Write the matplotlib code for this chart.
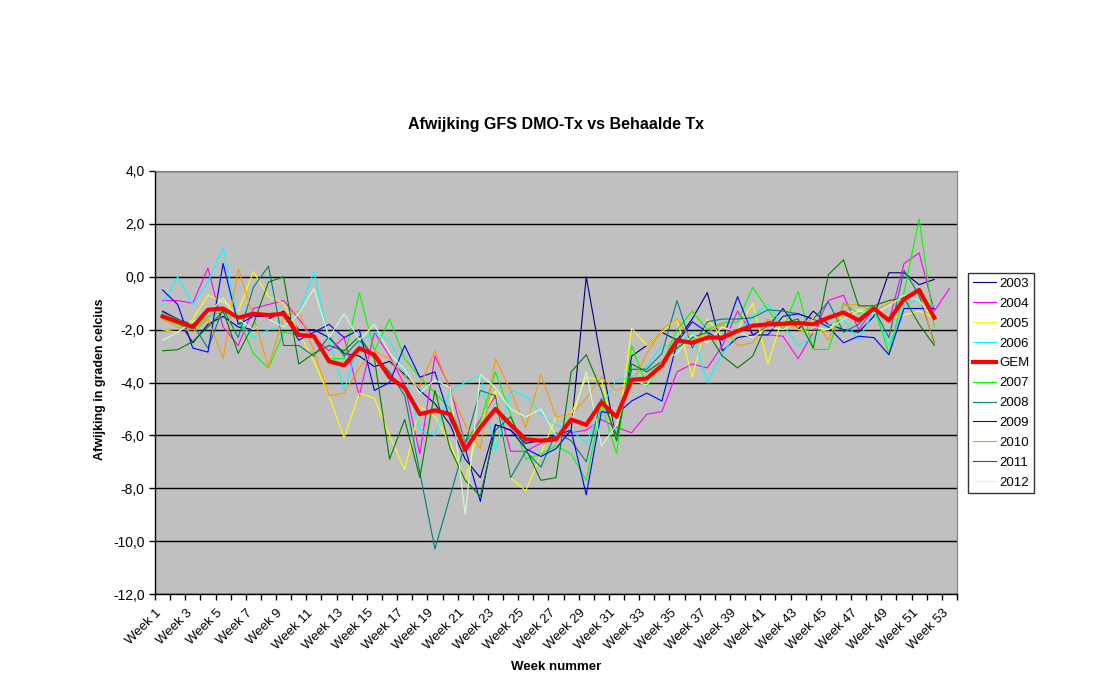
import numpy as np
import matplotlib
matplotlib.use("Agg")
import matplotlib.pyplot as plt
import matplotlib.transforms as mtransforms

plt.rcParams['font.family'] = ['Liberation Sans', 'DejaVu Sans']

# deviation per week (degrees C)
y2003 = [-1.3, -1.6, -2.5, -1.8, -1.5, -1.9, -2.0, -1.6, -1.3, -2.0,
         -2.0, -2.3, -2.9, -3.0, -3.4, -3.2, -3.7, -4.3, -4.8, -5.6,
         -6.9, -7.6, -5.6, -5.8, -6.3, -6.2, -6.0, -5.8, 0.0, -3.2,
         -6.2, -3.0, -2.6, -2.1, -2.4, -1.6, -0.6, -2.8, -2.3, -2.2,
         -1.9, -1.2, -2.0, -1.3, -1.8, -2.0, -2.1, -1.5, 0.15, 0.15,
         -0.3, -0.1]
y2004 = [-0.9, -0.9, -1.0, 0.33, -1.9, -2.6, -1.2, -1.05, -0.9, -1.6,
         -2.3, -2.8, -2.3, -4.5, -2.1, -3.0, -4.1, -6.7, -3.0, -4.2,
         -6.3, -5.4, -4.5, -6.6, -6.6, -6.3, -6.0, -5.9, -5.8, -5.4,
         -5.7, -5.9, -5.2, -5.1, -3.6, -3.3, -3.45, -2.6, -1.3, -2.2,
         -2.2, -2.25, -3.1, -2.1, -0.9, -0.7, -2.0, -1.2, -1.7, 0.5,
         0.9, -1.3, -0.45]
y2005 = [-2.0, -2.1, -1.6, -0.7, -0.95, -1.3, 0.2, -0.75, -1.0, -2.1,
         -3.2, -4.5, -6.1, -4.4, -4.6, -6.0, -7.3, -4.9, -5.3, -6.3,
         -7.7, -5.5, -4.3, -7.6, -8.1, -6.7, -5.3, -5.2, -3.8, -3.9,
         -6.2, -1.95, -2.6, -2.1, -1.6, -3.8, -1.6, -2.3, -2.0, -1.0,
         -3.3, -1.5, -2.0, -2.1, -2.0, -1.4, -1.25, -1.25, -1.6, -1.45,
         -1.3, -1.55]
y2006 = [-1.05, 0.0, -1.05, -0.2, 1.1, -1.7, -2.3, -2.0, -1.9, -1.4,
         0.2, -2.4, -4.3, -2.5, -2.1, -2.4, -3.6, -5.8, -6.0, -4.3,
         -4.0, -3.7, -6.6, -4.3, -4.5, -5.2, -5.6, -5.8, -6.3, -4.9,
         -3.9, -3.8, -3.4, -2.6, -2.6, -2.1, -4.0, -2.9, -2.1, -1.5,
         -1.05, -1.8, -2.6, -2.3, -1.8, -1.6, -2.4, -1.3, -2.6, -1.1,
         -0.85, -1.1]
gem = [-1.5, -1.7, -1.9, -1.25, -1.2, -1.55, -1.4, -1.45, -1.4, -2.2,
       -2.25, -3.2, -3.35, -2.7, -2.95, -3.8, -4.2, -5.2, -5.05, -5.2,
       -6.55, -5.7, -5.0, -5.6, -6.15, -6.2, -6.15, -5.4, -5.6, -4.75,
       -5.3, -3.9, -3.85, -3.35, -2.4, -2.5, -2.3, -2.3, -2.05, -1.85,
       -1.8, -1.78, -1.75, -1.8, -1.55, -1.35, -1.65, -1.2, -1.65, -0.85,
       -0.5, -1.55]
y2007 = [-1.6, -1.8, -2.0, -1.5, -1.3, -1.6, -2.9, -3.45, -2.1, -2.2,
         -2.25, -3.1, -3.1, -0.6, -2.8, -1.6, -3.1, -3.8, -4.4, -5.0,
         -6.2, -5.5, -3.6, -5.2, -6.9, -6.7, -6.4, -6.7, -7.7, -4.8,
         -6.7, -2.6, -4.15, -3.3, -2.0, -1.3, -2.0, -1.75, -1.7, -0.4,
         -1.25, -2.0, -0.55, -2.75, -2.75, -1.0, -1.4, -1.1, -2.9, -0.6,
         2.2, -1.9]
y2008 = [-1.35, -1.6, -1.8, -2.7, -1.2, -2.3, -0.4, 0.4, -2.6, -2.6,
         -3.0, -2.25, -3.0, -2.4, -3.0, -3.6, -4.5, -7.4, -10.3, -8.3,
         -6.3, -4.3, -4.5, -7.6, -6.6, -7.2, -5.9, -6.2, -7.0, -4.6,
         -6.0, -3.5, -3.5, -2.9, -0.9, -2.7, -1.7, -1.6, -1.6, -1.55,
         -1.25, -1.3, -1.4, -1.6, -0.95, -2.1, -1.8, -1.2, -2.3, 0.25,
         -0.7, -2.5]
y2009 = [-0.5, -1.05, -2.7, -2.85, 0.5, -1.8, -1.5, -1.5, -1.4, -2.4,
         -2.1, -1.8, -2.3, -2.0, -4.3, -4.0, -2.6, -3.8, -3.6, -5.4,
         -6.5, -8.5, -5.6, -5.8, -6.5, -6.8, -6.5, -5.8, -8.25, -5.1,
         -5.2, -4.7, -4.4, -4.7, -2.5, -1.7, -2.1, -2.4, -0.75, -2.2,
         -2.2, -1.5, -1.4, -1.6, -1.9, -2.5, -2.25, -2.3, -2.95, -1.2,
         -1.2, -1.2]
y2010 = [-1.6, -1.9, -2.1, -1.6, -3.1, 0.3, -1.5, -3.4, -1.5, -1.3,
         -2.8, -4.5, -4.4, -3.45, -2.8, -3.1, -3.8, -4.15, -2.8, -4.3,
         -5.6, -6.5, -3.1, -4.3, -5.7, -3.7, -5.3, -5.2, -4.6, -3.8,
         -4.3, -4.1, -2.9, -2.0, -1.6, -2.4, -2.1, -1.8, -2.6, -2.5,
         -1.6, -1.9, -1.9, -1.56, -2.4, -1.06, -1.06, -1.3, -1.0, -0.9,
         -0.5, -2.6]
y2011 = [-2.8, -2.76, -2.45, -1.9, -1.3, -2.9, -1.8, -0.2, 0.0, -3.3,
         -2.9, -2.6, -2.8, -2.25, -3.1, -6.9, -5.4, -7.6, -4.3, -6.5,
         -7.7, -8.3, -5.8, -5.3, -6.5, -7.7, -7.6, -3.6, -2.95, -4.3,
         -6.2, -3.3, -3.6, -3.2, -2.7, -2.3, -2.1, -3.0, -3.45, -3.0,
         -1.7, -1.75, -1.6, -2.7, 0.08, 0.64, -1.1, -1.1, -0.9, -0.8,
         -1.8, -2.6]
y2012 = [-2.4, -2.1, -1.7, -1.4, -0.8, -1.6, -2.0, -1.6, -1.9, -1.4,
         -0.45, -2.3, -1.4, -2.4, -1.8, -2.9, -3.5, -4.4, -3.9, -4.2,
         -9.0, -3.7, -4.2, -5.0, -5.3, -5.0, -6.0, -5.5, -3.6, -6.4,
         -5.6, -3.9, -4.1, -3.2, -2.9, -2.2, -2.5, -1.9, -2.1, -2.3,
         -1.9, -2.0, -1.7, -1.9, -2.0, -1.6, -1.3, -1.4, -1.1, -0.7,
         -0.9, -1.6]

labels = ['2003', '2004', '2005', '2006', 'GEM', '2007', '2008', '2009', '2010', '2011', '2012']
series = [y2003, y2004, y2005, y2006, gem, y2007, y2008, y2009, y2010, y2011, y2012]
colors = ['#000080', '#FF00FF', '#FFFF00', '#00FFFF', '#FF0000', '#00FF00',
          '#008080', '#0000FF', '#FF9900', '#008000', '#CCFFCC']

n_weeks = 53
week_labels = ['Week %d' % i for i in range(1, n_weeks + 1)]

fig = plt.figure(figsize=(11.19, 6.77), dpi=100)
ax = fig.add_axes([155 / 1119, 83 / 677, 802 / 1119, 423 / 677])
ax.set_facecolor('#C0C0C0')

for lab, vals, col in zip(labels, series, colors):
    x = np.arange(1, len(vals) + 1)
    if lab == 'GEM':
        ax.plot(x, vals, color=col, lw=3.0, label=lab, zorder=5)
    else:
        ax.plot(x, vals, color=col, lw=0.8, label=lab, zorder=3)

ax.set_xlim(0.5, n_weeks + 0.5)
ax.set_ylim(-12, 4)
yt = np.arange(-12, 4.1, 2)
ax.set_yticks(yt)
ax.set_yticklabels([('%.1f' % v).replace('.', ',') for v in yt])
ax.yaxis.grid(True, color='black', lw=1)
ax.set_axisbelow(True)

# tick marks between categories, labels on odd weeks
ax.set_xticks(np.arange(0.5, n_weeks + 1, 1))
ax.set_xticklabels([])
ax.set_xticks(np.arange(1, n_weeks + 1, 2), minor=True)
ax.set_xticklabels(week_labels[::2], minor=True, rotation=45, ha='right',
                   va='top', rotation_mode='anchor', fontsize=9.5)
ax.tick_params(axis='x', which='major', direction='out', length=4, width=1)
ax.tick_params(axis='x', which='minor', length=0, pad=8)
ax.tick_params(axis='y', direction='out', length=4, width=1, labelsize=10)

shift = mtransforms.ScaledTranslation(-7 / 100, -2 / 100, fig.dpi_scale_trans)
for t in ax.xaxis.get_minorticklabels():
    t.set_transform(t.get_transform() + shift)

for side in ['top', 'right']:
    ax.spines[side].set_color('#808080')
    ax.spines[side].set_linewidth(0.8)
for side in ['left', 'bottom']:
    ax.spines[side].set_color('black')
    ax.spines[side].set_linewidth(1)

fig.text(0.5 * (155 + 957) / 1119, 1 - 125 / 677, 'Afwijking GFS DMO-Tx vs Behaalde Tx',
         ha='center', va='center', fontsize=11.5, fontweight='bold')
fig.text(556 / 1119, 1 - 667 / 677, 'Week nummer', ha='center', va='center',
         fontsize=9.5, fontweight='bold')
fig.text(100 / 1119, 1 - 379 / 677, 'Afwijking in graden celcius', ha='center',
         va='center', rotation=90, fontsize=9, fontweight='bold')

leg = fig.legend(loc='upper left', bbox_to_anchor=(968 / 1119, 1 - 273 / 677),
                 fontsize=9.5, frameon=True, fancybox=False, edgecolor='black',
                 handlelength=1.75, handletextpad=0.25, labelspacing=0.58,
                 borderpad=0.35, borderaxespad=0)
leg.get_frame().set_linewidth(1)

fig.savefig('out.png', dpi=100, facecolor='white')
